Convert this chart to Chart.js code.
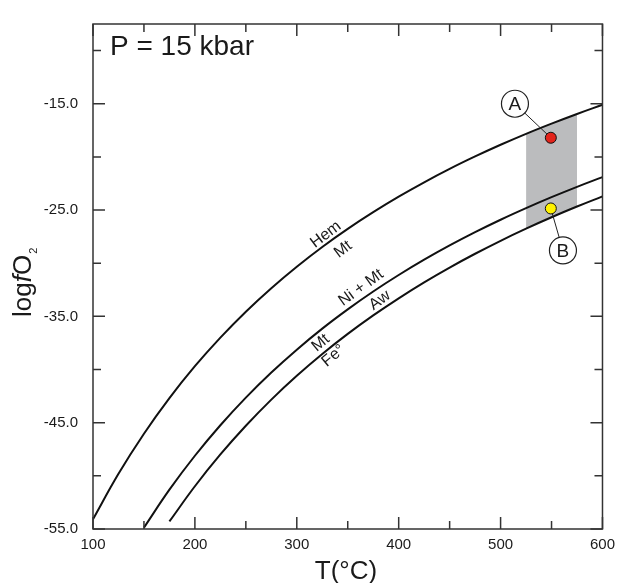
<!DOCTYPE html>
<html>
<head>
<meta charset="utf-8">
<script src="https://cdn.jsdelivr.net/npm/chart.js@4.4.1/dist/chart.umd.min.js"></script>
<style>
  html, body { margin: 0; padding: 0; background: #fff; }
  canvas { display: block; }
</style>
</head>
<body>
<canvas id="chart" width="622" height="583"></canvas>
<script>
// buffer curves, T (°C) vs logfO2, P = 15 kbar
const hemMtT = [100, 125, 150, 175, 200, 225, 250, 275, 300, 325, 350, 375, 400, 425, 450, 475, 500, 525, 550, 575, 600];
const hemMtLogfO2 = [-54.08, -49.81, -46.04, -42.69, -39.69, -37.0, -34.56, -32.35, -30.33, -28.47, -26.77, -25.2, -23.74, -22.39, -21.13, -19.96, -18.86, -17.83, -16.87, -15.96, -15.1];

const niMtT = [150, 175, 200, 225, 250, 275, 300, 325, 350, 375, 400, 425, 450, 475, 500, 525, 550, 575, 600];
const niMtLogfO2 = [-54.87, -51.3, -48.11, -45.24, -42.64, -40.28, -38.13, -36.15, -34.34, -32.66, -31.11, -29.67, -28.33, -27.08, -25.91, -24.82, -23.79, -22.82, -21.9];

const mtFeT = [175, 200, 225, 250, 275, 300, 325, 350, 375, 400, 425, 450, 475, 500, 525, 550, 575, 600];
const mtFeLogfO2 = [-54.29, -50.98, -47.99, -45.29, -42.83, -40.59, -38.54, -36.65, -34.91, -33.3, -31.8, -30.41, -29.11, -27.89, -26.75, -25.68, -24.67, -23.72];

// grey field
const bandT = [525, 550, 575];
const bandTop = [-17.83, -16.87, -15.96];
const bandBottom = [-26.75, -25.68, -24.67];

// samples A and B
const sampleNames = ['A', 'B'];
const sampleT = [549.3, 549.3];
const sampleLogfO2 = [-18.2, -24.85];
const sampleColors = ['#e3231b', '#fff200'];
const labelT = [514.1, 561.2];
const labelLogfO2 = [-15.0, -28.8];

// ticks
const xLabelTicks = [100, 200, 300, 400, 500, 600];
const xMinorTicks = [150, 250, 350, 450, 550];
const yLabelTicks = [-55, -45, -35, -25, -15];
const yMinorTicks = [-50, -40, -30, -20, -10];

const FONT = '"Liberation Sans", Arial, sans-serif';
const INK = '#1a1a1a';

const pts = (xs, ys) => xs.map((x, i) => ({ x: x, y: ys[i] }));

const curve = (xs, ys) => ({
  data: pts(xs, ys),
  borderColor: '#111',
  borderWidth: 2,
  pointRadius: 0,
  tension: 0.4,
  fill: false,
  order: 3
});

const leader = (i) => ({
  data: [{ x: labelT[i], y: labelLogfO2[i] }, { x: sampleT[i], y: sampleLogfO2[i] }],
  borderColor: '#222',
  borderWidth: 1,
  pointRadius: 0,
  fill: false,
  order: 2
});

const decorations = {
  id: 'decorations',
  afterDatasetsDraw(chart) {
    const c = chart.ctx;
    const xs = chart.scales.x, ys = chart.scales.y;
    const a = chart.chartArea;
    c.save();

    // frame + inward ticks on all sides
    c.strokeStyle = '#333';
    c.lineWidth = 1.5;
    c.strokeRect(a.left, a.top, a.right - a.left, a.bottom - a.top);
    c.beginPath();
    const xt = (v, len) => {
      const px = xs.getPixelForValue(v);
      c.moveTo(px, a.bottom); c.lineTo(px, a.bottom - len);
      c.moveTo(px, a.top); c.lineTo(px, a.top + len);
    };
    const yt = (v, len) => {
      const py = ys.getPixelForValue(v);
      c.moveTo(a.left, py); c.lineTo(a.left + len, py);
      c.moveTo(a.right, py); c.lineTo(a.right - len, py);
    };
    xLabelTicks.forEach(v => xt(v, 12));
    xMinorTicks.forEach(v => xt(v, 8));
    yLabelTicks.forEach(v => yt(v, 12));
    yMinorTicks.forEach(v => yt(v, 8));
    c.stroke();

    // letters in the sample circles
    c.fillStyle = INK;
    c.font = '19px ' + FONT;
    c.textAlign = 'center';
    c.textBaseline = 'middle';
    sampleNames.forEach((s, i) => {
      c.fillText(s, xs.getPixelForValue(labelT[i]), ys.getPixelForValue(labelLogfO2[i]) + 1);
    });

    // reaction labels along the curves
    const curveLabels = [
      { text: 'Hem', t: 328.5, v: -27.3, ang: -37 },
      { text: 'Mt', t: 345.5, v: -28.7, ang: -37 },
      { text: 'Ni + Mt', t: 363, v: -32.3, ang: -36 },
      { text: 'Aw', t: 381.5, v: -33.5, ang: -36 },
      { text: 'Mt', t: 323.5, v: -37.5, ang: -40 },
      { text: 'Fe\u00B0', t: 336, v: -38.7, ang: -40 }
    ];
    c.font = '16px ' + FONT;
    curveLabels.forEach(l => {
      c.save();
      c.translate(xs.getPixelForValue(l.t), ys.getPixelForValue(l.v));
      c.rotate(l.ang * Math.PI / 180);
      c.fillText(l.text, 0, 0);
      c.restore();
    });

    // pressure note
    c.textAlign = 'left';
    c.textBaseline = 'alphabetic';
    c.font = '28px ' + FONT;
    c.fillText('P = 15 kbar', 110, 55);

    // x axis title
    c.textAlign = 'center';
    c.font = '26px ' + FONT;
    c.fillText('T(\u00B0C)', 346, 579);

    // y axis title: log f O2 with italic f and subscript 2
    c.save();
    c.translate(31, 317);
    c.rotate(-Math.PI / 2);
    c.textAlign = 'left';
    let x = 0;
    c.font = '26px ' + FONT;
    c.fillText('log', x, 0); x += c.measureText('log').width;
    c.font = 'italic 26px ' + FONT;
    c.fillText('f', x, 0); x += c.measureText('f').width;
    c.font = '26px ' + FONT;
    c.fillText('O', x, 0); x += c.measureText('O').width + 1;
    c.font = '11px ' + FONT;
    c.fillText('2', x, 6);
    c.restore();

    c.restore();
  }
};

new Chart(document.getElementById('chart').getContext('2d'), {
  type: 'line',
  data: {
    datasets: [
      {
        data: pts(sampleT, sampleLogfO2),
        showLine: false,
        pointRadius: 5.5,
        pointBackgroundColor: sampleColors,
        pointBorderColor: '#111',
        pointBorderWidth: 1,
        order: 0
      },
      {
        data: pts(labelT, labelLogfO2),
        showLine: false,
        pointRadius: 13.5,
        pointBackgroundColor: '#fff',
        pointBorderColor: '#222',
        pointBorderWidth: 1.2,
        order: 1
      },
      leader(0),
      leader(1),
      curve(hemMtT, hemMtLogfO2),
      curve(niMtT, niMtLogfO2),
      curve(mtFeT, mtFeLogfO2),
      {
        data: pts(bandT, bandTop),
        borderWidth: 0,
        pointRadius: 0,
        tension: 0.4,
        backgroundColor: '#bbbcbe',
        fill: '+1',
        order: 4
      },
      {
        data: pts(bandT, bandBottom),
        borderWidth: 0,
        pointRadius: 0,
        tension: 0.4,
        fill: false,
        order: 4
      }
    ]
  },
  options: {
    responsive: false,
    animation: false,
    layout: { padding: { left: 0, top: 12, right: 13, bottom: 0 } },
    plugins: { legend: { display: false }, tooltip: { enabled: false } },
    scales: {
      x: {
        type: 'linear',
        min: 100,
        max: 600,
        afterBuildTicks: s => { s.ticks = xLabelTicks.map(v => ({ value: v })); },
        afterFit: s => { s.height = 54; },
        grid: { display: false, drawTicks: false },
        border: { display: false },
        ticks: {
          padding: 7,
          maxRotation: 0,
          color: INK,
          font: { family: FONT, size: 15 },
          callback: v => String(v)
        }
      },
      y: {
        type: 'linear',
        min: -55,
        max: -7.5,
        afterBuildTicks: s => { s.ticks = yLabelTicks.map(v => ({ value: v })); },
        afterFit: s => { s.width = 93; },
        grid: { display: false, drawTicks: false },
        border: { display: false },
        ticks: {
          padding: 15,
          color: INK,
          font: { family: FONT, size: 15 },
          callback: v => v.toFixed(1)
        }
      }
    }
  },
  plugins: [decorations]
});
</script>
</body>
</html>
